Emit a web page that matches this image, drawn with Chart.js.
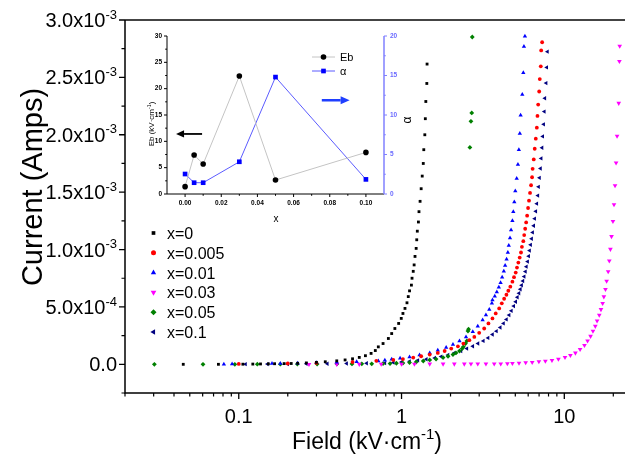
<!DOCTYPE html>
<html>
<head>
<meta charset="utf-8">
<title>Current vs Field</title>
<script src="https://cdn.jsdelivr.net/npm/chart.js@4.4.1/dist/chart.umd.min.js"></script>
<style>
  html, body { margin: 0; padding: 0; background: #fff; }
  #wrap { position: relative; width: 629px; height: 454px; overflow: hidden; }
  #mainChart { position: absolute; left: 0; top: 0; }
  #insetChart { position: absolute; left: 130px; top: 25px; }
</style>
</head>
<body>
<div id="wrap">
  <canvas id="mainChart" width="629" height="454"></canvas>
  <canvas id="insetChart" width="300" height="205"></canvas>
</div>
<script>
// ==========================================
// DATOS  (field in kV/cm, current in mA)
// ==========================================

const seriesNames = ['x=0', 'x=0.005', 'x=0.01', 'x=0.03', 'x=0.05', 'x=0.1'];

const field0 = [0.0456, 0.075, 0.106, 0.122, 0.136, 0.152, 0.166, 0.19, 0.21, 0.23,
  0.26, 0.3, 0.34, 0.4, 0.45, 0.5, 0.55, 0.6, 0.65, 0.69,
  0.72, 0.77, 0.83, 0.87, 0.91, 0.96, 0.996, 1.02, 1.05, 1.08,
  1.10, 1.12, 1.15, 1.16, 1.18, 1.195, 1.21, 1.23, 1.24, 1.25,
  1.27, 1.28, 1.30, 1.32, 1.34, 1.36, 1.37, 1.39, 1.40, 1.41, 1.43, 1.435];
const current0 = [0.0, 0.0, 0.001, 0.002, 0.003, 0.004, 0.005, 0.006, 0.007, 0.009,
  0.012, 0.017, 0.022, 0.03, 0.038, 0.048, 0.06, 0.075, 0.095, 0.12,
  0.152, 0.181, 0.225, 0.268, 0.312, 0.356, 0.40, 0.443, 0.487, 0.536,
  0.59, 0.64, 0.69, 0.75, 0.81, 0.866, 0.94, 1.01, 1.085, 1.16,
  1.24, 1.33, 1.42, 1.53, 1.64, 1.75, 1.87, 2.0, 2.14, 2.29, 2.447, 2.616];

const field0005 = [0.1, 0.2, 0.3, 0.5, 0.7, 0.89, 1.02, 1.18, 1.32, 1.49,
  1.67, 1.84, 2.02, 2.22, 2.4, 2.61, 2.8, 3.0, 3.22, 3.42,
  3.62, 3.79, 3.98, 4.13, 4.27, 4.41, 4.53, 4.66, 4.8, 4.91,
  5.03, 5.12, 5.22, 5.32, 5.42, 5.49, 5.6, 5.67, 5.75, 5.83,
  5.91, 5.99, 6.07, 6.16, 6.25, 6.34, 6.39, 6.49, 6.58, 6.68,
  6.78, 6.84, 6.91, 7.01, 7.07, 7.17, 7.21, 7.31];
const current0005 = [0.003, 0.007, 0.012, 0.02, 0.03, 0.038, 0.046, 0.059, 0.07, 0.085,
  0.099, 0.116, 0.137, 0.157, 0.181, 0.21, 0.239, 0.274, 0.312, 0.356,
  0.40, 0.443, 0.487, 0.531, 0.571, 0.606, 0.641, 0.676, 0.72, 0.759,
  0.799, 0.843, 0.886, 0.93, 0.974, 1.024, 1.073, 1.126, 1.181, 1.236,
  1.295, 1.362, 1.426, 1.493, 1.56, 1.63, 1.703, 1.785, 1.878, 1.966,
  2.062, 2.164, 2.263, 2.377, 2.485, 2.596, 2.735, 2.806];

const field001 = [0.081, 0.091, 0.16, 0.18, 0.23, 0.30, 0.40, 0.53, 0.72, 0.79,
  0.87, 0.98, 1.12, 1.29, 1.49, 1.67, 1.88, 2.07, 2.27, 2.49,
  2.74, 2.94, 3.15, 3.3, 3.46, 3.59, 3.62, 3.74, 3.85, 3.96,
  4.06, 4.15, 4.25, 4.33, 4.42, 4.5, 4.56, 4.64, 4.71, 4.8,
  4.86, 4.93, 5.0, 5.1, 5.19, 5.26, 5.33, 5.39, 5.52, 5.6, 5.65, 5.73];
const current001 = [0.001, 0.002, 0.006, 0.008, 0.010, 0.014, 0.018, 0.022, 0.029, 0.035,
  0.044, 0.052, 0.064, 0.081, 0.099, 0.122, 0.146, 0.172, 0.204, 0.239,
  0.283, 0.332, 0.385, 0.429, 0.478, 0.531, 0.56, 0.592, 0.63, 0.671,
  0.711, 0.759, 0.81, 0.86, 0.916, 0.974, 1.035, 1.10, 1.17, 1.25,
  1.33, 1.415, 1.51, 1.62, 1.74, 1.87, 2.01, 2.17, 2.35, 2.54, 2.77, 2.858];

const field003 = [0.27, 0.4, 0.55, 0.75, 1.0, 1.2, 1.49, 1.8, 2.11, 2.43,
  2.67, 2.94, 3.3, 3.71, 4.07, 4.47, 4.8, 5.27, 5.79, 6.35,
  6.98, 7.65, 8.4, 9.2, 10.1, 10.9, 11.7, 12.5, 13.3, 13.9,
  14.5, 15.0, 15.5, 15.9, 16.4, 16.8, 17.2, 17.5, 17.9, 18.2,
  18.6, 18.9, 19.2, 19.5, 19.9, 20.2, 20.5, 20.8, 21.1, 21.6, 21.8, 21.9];
const current003 = [0.0, 0.001, 0.001, 0.002, 0.002, 0.002, 0.003, 0.003, 0.003, 0.003,
  0.004, 0.004, 0.004, 0.005, 0.005, 0.006, 0.009, 0.011, 0.015, 0.017,
  0.024, 0.029, 0.035, 0.046, 0.061, 0.079, 0.099, 0.131, 0.166, 0.204,
  0.245, 0.289, 0.332, 0.379, 0.429, 0.478, 0.531, 0.589, 0.654, 0.726,
  0.808, 0.901, 1.003, 1.114, 1.245, 1.391, 1.557, 1.756, 1.989, 2.275, 2.64, 2.773];

const field005 = [0.0303, 0.0603, 0.0946, 0.13, 0.18, 0.229, 0.303, 0.401, 0.496, 0.57,
  0.656, 0.77, 0.85, 0.93, 1.02, 1.12, 1.23, 1.36, 1.49, 1.63,
  1.8, 1.93, 2.07, 2.16, 2.27, 2.36, 2.4, 2.47, 2.52, 2.56,
  2.58, 2.63, 2.67, 2.70, 2.72];
const current005 = [0.0, 0.0, 0.0, 0.001, 0.001, 0.002, 0.002, 0.003, 0.003, 0.004,
  0.004, 0.006, 0.006, 0.009, 0.011, 0.015, 0.02, 0.029, 0.038, 0.046,
  0.059, 0.07, 0.085, 0.099, 0.116, 0.137, 0.152, 0.181, 0.204, 0.29,
  0.306, 1.89, 2.117, 2.19, 2.852];

const field01 = [0.11, 0.15, 0.2, 0.26, 0.35, 0.46, 0.61, 0.79, 0.89, 1.0,
  1.12, 1.26, 1.42, 1.6, 1.75, 1.93, 2.11, 2.32, 2.52, 2.74,
  2.95, 3.18, 3.4, 3.62, 3.83, 4.04, 4.23, 4.41, 4.58, 4.73,
  4.89, 5.03, 5.15, 5.27, 5.37, 5.47, 5.57, 5.67, 5.77, 5.85,
  5.95, 6.04, 6.12, 6.21, 6.3, 6.39, 6.49, 6.58, 6.68, 6.78,
  6.88, 6.95, 7.04, 7.14, 7.21, 7.3, 7.37, 7.47, 7.54, 7.6, 7.73, 7.8, 7.88];
const current01 = [0.001, 0.002, 0.003, 0.004, 0.005, 0.007, 0.009, 0.011, 0.015, 0.02,
  0.026, 0.035, 0.044, 0.055, 0.067, 0.081, 0.099, 0.116, 0.137, 0.157,
  0.181, 0.204, 0.23, 0.26, 0.289, 0.321, 0.356, 0.391, 0.429, 0.466,
  0.507, 0.545, 0.584, 0.619, 0.654, 0.689, 0.726, 0.764, 0.808, 0.851,
  0.895, 0.942, 0.991, 1.041, 1.094, 1.149, 1.207, 1.269, 1.333, 1.40,
  1.47, 1.546, 1.625, 1.706, 1.794, 1.887, 1.986, 2.091, 2.202, 2.318, 2.45, 2.587, 2.724];

const seriesFields = [field0, field0005, field001, field003, field005, field01];
const seriesCurrents = [current0, current0005, current001, current003, current005, current01];

// axis ticks
const fieldTickValues = [0.1, 1, 10];
const fieldTickLabels = ['0.1', '1', '10'];
const fieldMinorTicks = [0.02, 0.03, 0.04, 0.05, 0.06, 0.07, 0.08, 0.09,
  0.2, 0.3, 0.4, 0.5, 0.6, 0.7, 0.8, 0.9, 2, 3, 4, 5, 6, 7, 8, 9, 20];
const currentTickValues = [0, 0.5e-3, 1.0e-3, 1.5e-3, 2.0e-3, 2.5e-3, 3.0e-3];
const currentTickMantissa = ['0.0', '5.0x10', '1.0x10', '1.5x10', '2.0x10', '2.5x10', '3.0x10'];
const currentTickExp = ['', '-4', '-3', '-3', '-3', '-3', '-3'];
const currentMinorTicks = [-0.25e-3, 0.25e-3, 0.75e-3, 1.25e-3, 1.75e-3, 2.25e-3, 2.75e-3];

// inset: breakdown field and alpha vs composition x
const insetX = [0, 0.005, 0.01, 0.03, 0.05, 0.1];
const insetEb = [1.4, 7.4, 5.7, 22.4, 2.65, 7.9];
const insetAlpha = [2.53, 1.43, 1.43, 4.08, 14.8, 1.85];
const insetXTicks = [0, 0.02, 0.04, 0.06, 0.08, 0.10];
const insetXMinor = [0.01, 0.03, 0.05, 0.07, 0.09];
const insetEbTicks = [0, 5, 10, 15, 20, 25, 30];
const insetEbMinor = [2.5, 7.5, 12.5, 17.5, 22.5, 27.5];
const insetAlphaTicks = [0, 5, 10, 15, 20];
const insetAlphaMinor = [2.5, 7.5, 12.5, 17.5];

// ==========================================
// ESTILOS
// ==========================================

const FONT = '"Liberation Sans", Arial, Helvetica, sans-serif';
Chart.defaults.font.family = FONT;

const seriesColors = ['#000000', '#ff0000', '#0000ff', '#ff00ff', '#008000', '#000080'];
const seriesShapes = ['rect', 'circle', 'triangle', 'triangle', 'rectRot', 'triangle'];
const seriesRotation = [0, 0, 0, 180, 0, 270];
const seriesRadius = [2.0, 1.9, 2.5, 2.7, 2.4, 2.5];

// ==========================================
// HELPERS
// ==========================================

function drawRich(ctx, parts, x, y, size, align) {
    const supSize = size * 0.65;
    let total = 0;
    parts.forEach(([t, sup]) => {
        ctx.font = (sup ? supSize : size) + 'px ' + FONT;
        total += ctx.measureText(t).width;
    });
    let cx = align === 'center' ? x - total / 2 : (align === 'right' ? x - total : x);
    ctx.textAlign = 'left';
    ctx.textBaseline = 'alphabetic';
    parts.forEach(([t, sup]) => {
        ctx.font = (sup ? supSize : size) + 'px ' + FONT;
        ctx.fillText(t, cx, sup ? y - size * 0.42 : y);
        cx += ctx.measureText(t).width;
    });
}

function tickMarks(ctx, scale, values, len, side, color, width) {
    ctx.save();
    ctx.strokeStyle = color;
    ctx.lineWidth = width;
    ctx.beginPath();
    values.forEach(v => {
        const p = scale.getPixelForValue(v);
        if (side === 'bottom') { ctx.moveTo(p, scale.top); ctx.lineTo(p, scale.top + len); }
        else if (side === 'left') { ctx.moveTo(scale.right, p); ctx.lineTo(scale.right - len, p); }
        else { ctx.moveTo(scale.left, p); ctx.lineTo(scale.left + len, p); }
    });
    ctx.stroke();
    ctx.restore();
}

function arrow(ctx, x1, y1, x2, y2, color, width, head) {
    const dir = Math.sign(x2 - x1);
    ctx.save();
    ctx.strokeStyle = color;
    ctx.fillStyle = color;
    ctx.lineWidth = width;
    ctx.beginPath();
    ctx.moveTo(x1, y1);
    ctx.lineTo(x2 - dir * head, y2);
    ctx.stroke();
    ctx.beginPath();
    ctx.moveTo(x2, y2);
    ctx.lineTo(x2 - dir * head, y2 - head * 0.45);
    ctx.lineTo(x2 - dir * head, y2 + head * 0.45);
    ctx.closePath();
    ctx.fill();
    ctx.restore();
}

// ==========================================
// GRÁFICO PRINCIPAL
// ==========================================

const mainDecor = {
    id: 'mainDecor',
    afterDraw(chart) {
        const { ctx, chartArea: a, scales: { x, y } } = chart;
        ctx.save();
        ctx.strokeStyle = '#444';
        ctx.lineWidth = 2;
        ctx.beginPath(); ctx.moveTo(a.left, a.top); ctx.lineTo(a.right, a.top); ctx.stroke();
        ctx.strokeStyle = '#000';
        ctx.lineWidth = 1.5;
        ctx.beginPath(); ctx.moveTo(a.left, a.top); ctx.lineTo(a.left, a.bottom); ctx.lineTo(a.right, a.bottom); ctx.stroke();

        tickMarks(ctx, x, fieldTickValues, 6, 'bottom', '#000', 1.3);
        tickMarks(ctx, x, fieldMinorTicks, 3.5, 'bottom', '#000', 1.2);
        tickMarks(ctx, y, currentTickValues, 6, 'left', '#000', 1.3);
        tickMarks(ctx, y, currentMinorTicks, 3.5, 'left', '#000', 1.2);

        ctx.fillStyle = '#000';
        currentTickValues.forEach((v, i) => {
            const py = y.getPixelForValue(v);
            drawRich(ctx, [[currentTickMantissa[i], false], [currentTickExp[i], true]], 117, py + 7, 20, 'right');
        });

        // axis titles
        ctx.save();
        ctx.translate(31, 187);
        ctx.rotate(-Math.PI / 2);
        drawRich(ctx, [['Current (Amps)', false]], 0, 10.5, 29, 'center');
        ctx.restore();
        drawRich(ctx, [['Field (kV·cm', false], ['-1', true], [')', false]], 367, 449, 23, 'center');

        // legend
        seriesNames.forEach((name, i) => {
            const ly = 233 + i * 19.8;
            ctx.fillStyle = seriesColors[i];
            Chart.helpers.drawPoint(ctx, {
                pointStyle: seriesShapes[i], rotation: seriesRotation[i],
                radius: seriesRadius[i] + 0.6, borderWidth: 0
            }, 153.5, ly);
            ctx.fillStyle = '#000';
            drawRich(ctx, [[name, false]], 167, ly + 6, 16, 'left');
        });
        ctx.restore();
    }
};

const mainChart = new Chart(document.getElementById('mainChart'), {
    type: 'scatter',
    data: {
        datasets: seriesNames.map((name, i) => ({
            label: name,
            data: seriesFields[i].map((f, j) => ({ x: f, y: seriesCurrents[i][j] * 1e-3 })),
            pointStyle: seriesShapes[i],
            rotation: seriesRotation[i],
            pointRadius: seriesRadius[i],
            backgroundColor: seriesColors[i],
            borderColor: seriesColors[i],
            pointBorderWidth: 0,
            showLine: false
        }))
    },
    options: {
        responsive: false,
        animation: false,
        devicePixelRatio: 1,
        events: [],
        layout: { padding: { top: 20, left: 0, right: 0, bottom: 0 } },
        plugins: { legend: { display: false }, tooltip: { enabled: false } },
        scales: {
            x: {
                type: 'logarithmic',
                position: 'bottom',
                min: 0.02,
                max: 23.6,
                grid: { display: false, drawTicks: false },
                border: { display: false },
                afterBuildTicks: s => { s.ticks = fieldTickValues.map(v => ({ value: v })); },
                afterFit: s => { s.height = 61; },
                ticks: {
                    callback: (v, i) => fieldTickLabels[i],
                    font: { size: 20 },
                    color: '#000',
                    padding: 12,
                    maxRotation: 0,
                    autoSkip: false
                }
            },
            y: {
                type: 'linear',
                min: -0.25e-3,
                max: 3.0e-3,
                grid: { display: false, drawTicks: false },
                border: { display: false },
                ticks: { display: false },
                afterFit: s => { s.width = 125; }
            }
        }
    },
    plugins: [mainDecor]
});

// ==========================================
// INSERTO
// ==========================================

const insetDecor = {
    id: 'insetDecor',
    afterDraw(chart) {
        const { ctx, chartArea: a, scales: { x, y, y1 } } = chart;
        ctx.save();
        ctx.strokeStyle = '#000';
        ctx.lineWidth = 1;
        ctx.beginPath(); ctx.moveTo(a.left, a.top); ctx.lineTo(a.left, a.bottom); ctx.lineTo(a.right, a.bottom); ctx.stroke();
        ctx.strokeStyle = '#8080ff';
        ctx.lineWidth = 1.5;
        ctx.beginPath(); ctx.moveTo(a.right, a.top); ctx.lineTo(a.right, a.bottom); ctx.stroke();

        tickMarks(ctx, x, insetXTicks, 3, 'bottom', '#000', 1);
        tickMarks(ctx, x, insetXMinor, 1.8, 'bottom', '#000', 1);
        tickMarks(ctx, y, insetEbTicks, 3, 'left', '#000', 1);
        tickMarks(ctx, y, insetEbMinor, 1.8, 'left', '#000', 1);
        tickMarks(ctx, y1, insetAlphaTicks, 3, 'right', '#8080ff', 1);
        tickMarks(ctx, y1, insetAlphaMinor, 1.8, 'right', '#8080ff', 1);

        // titles
        ctx.fillStyle = '#000';
        ctx.save();
        ctx.translate(21, 99);
        ctx.rotate(-Math.PI / 2);
        drawRich(ctx, [['Eb (kV·cm', false], ['-1', true], [')', false]], 0, 3, 8, 'center');
        ctx.restore();
        drawRich(ctx, [['x', false]], 146, 197, 10, 'center');
        ctx.save();
        ctx.translate(277, 95);
        ctx.rotate(-Math.PI / 2);
        drawRich(ctx, [['α', false]], 0, 4, 12, 'center');
        ctx.restore();

        // legend
        ctx.lineWidth = 1;
        ctx.strokeStyle = '#c4c4c4';
        ctx.beginPath(); ctx.moveTo(182, 32); ctx.lineTo(205, 32); ctx.stroke();
        ctx.fillStyle = '#000';
        Chart.helpers.drawPoint(ctx, { pointStyle: 'circle', radius: 2.8, borderWidth: 0 }, 193.5, 32);
        drawRich(ctx, [['Eb', false]], 210, 36, 11, 'left');
        ctx.strokeStyle = '#5b5bff';
        ctx.beginPath(); ctx.moveTo(182, 46); ctx.lineTo(205, 46); ctx.stroke();
        ctx.fillStyle = '#0000ff';
        Chart.helpers.drawPoint(ctx, { pointStyle: 'rect', radius: 3.3, borderWidth: 0 }, 193.5, 46);
        ctx.fillStyle = '#000';
        drawRich(ctx, [['α', false]], 210, 50, 11, 'left');

        // arrows
        arrow(ctx, x.getPixelForValue(0.0094), y.getPixelForValue(11.4),
              x.getPixelForValue(-0.005), y.getPixelForValue(11.4), '#000', 1.8, 8);
        arrow(ctx, x.getPixelForValue(0.0756), y.getPixelForValue(17.8),
              x.getPixelForValue(0.091), y.getPixelForValue(17.8), '#1f3fff', 2.5, 9);
        ctx.restore();
    }
};

const insetChart = new Chart(document.getElementById('insetChart'), {
    type: 'scatter',
    data: {
        datasets: [{
            label: 'Eb',
            data: insetX.map((v, i) => ({ x: v, y: insetEb[i] })),
            yAxisID: 'y',
            showLine: true,
            borderColor: '#c4c4c4',
            borderWidth: 1,
            pointStyle: 'circle',
            pointRadius: 2.8,
            pointBackgroundColor: '#000',
            pointBorderWidth: 0
        }, {
            label: 'α',
            data: insetX.map((v, i) => ({ x: v, y: insetAlpha[i] })),
            yAxisID: 'y1',
            showLine: true,
            borderColor: '#5b5bff',
            borderWidth: 1,
            pointStyle: 'rect',
            pointRadius: 3.3,
            pointBackgroundColor: '#0000ff',
            pointBorderWidth: 0
        }]
    },
    options: {
        responsive: false,
        animation: false,
        devicePixelRatio: 1,
        events: [],
        layout: { padding: { top: 11, left: 0, right: 0, bottom: 0 } },
        plugins: { legend: { display: false }, tooltip: { enabled: false } },
        scales: {
            x: {
                type: 'linear',
                min: -0.01,
                max: 0.11,
                grid: { display: false, drawTicks: false },
                border: { display: false },
                afterBuildTicks: s => { s.ticks = insetXTicks.map(v => ({ value: v })); },
                afterFit: s => { s.height = 36; },
                ticks: {
                    callback: v => v.toFixed(2),
                    font: { size: 6.5, weight: 'bold' },
                    color: '#000',
                    padding: 5,
                    maxRotation: 0,
                    autoSkip: false
                }
            },
            y: {
                position: 'left',
                min: 0,
                max: 30,
                grid: { display: false, drawTicks: false },
                border: { display: false },
                afterFit: s => { s.width = 37; },
                ticks: { stepSize: 5, font: { size: 6.5, weight: 'bold' }, color: '#000', padding: 5 }
            },
            y1: {
                position: 'right',
                min: 0,
                max: 20,
                grid: { display: false, drawTicks: false },
                border: { display: false },
                afterFit: s => { s.width = 46; },
                ticks: { stepSize: 5, font: { size: 6.5, weight: 'bold' }, color: '#6a6aff', padding: 6 }
            }
        }
    },
    plugins: [insetDecor]
});
</script>
</body>
</html>
